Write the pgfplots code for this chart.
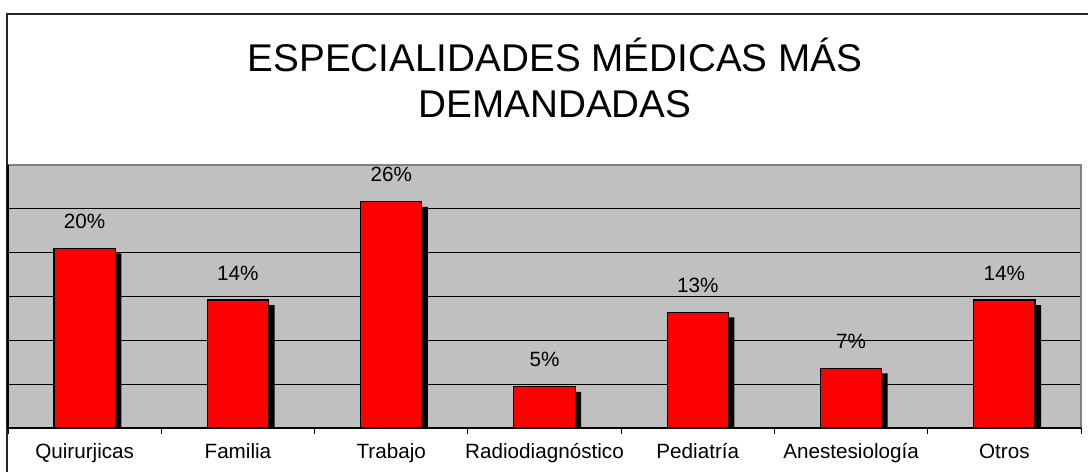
\documentclass[border=0pt]{standalone}
\usepackage{fontspec}
\setmainfont{Liberation Sans}
\usepackage{pgfplots}
\pgfplotsset{compat=1.18}
\usepackage{pgfplotstable}
\definecolor{plotgray}{RGB}{192,192,192}
\definecolor{barred}{RGB}{255,0,0}
\pgfplotstableread{
x val lab
0 20.5 20
1 14.6 14
2 25.8 26
3 4.7 5
4 13.2 13
5 6.8 7
6 14.6 14
}\datatable
\begin{document}
\begin{tikzpicture}
\useasboundingbox (0,0) rectangle (816pt,354pt);
% outer chart border
\draw[line width=1.2pt, black!85] (5.25pt,0pt) -- (5.25pt,343.5pt) -- (816pt,343.5pt);
% title
\node[anchor=base, font=\fontsize{29}{34}\selectfont] at (416.25pt,300pt) {ESPECIALIDADES MÉDICAS MÁS};
\node[anchor=base, font=\fontsize{29}{34}\selectfont] at (416.25pt,265.5pt) {DEMANDADAS};
\begin{axis}[
  name=ax,
  at={(6pt,33pt)}, anchor=south west,
  width=804.75pt, height=197.25pt, scale only axis,
  xmin=-0.5, xmax=6.5, ymin=0, ymax=30,
  axis background/.style={fill=plotgray},
  axis line style={draw=none},
  ytick={5,10,15,20,25}, yticklabels={}, ytick style={draw=none},
  ymajorgrids, grid style={black, line width=0.6pt},
  xtick={-0.5,0.5,1.5,2.5,3.5,4.5,5.5,6.5}, xticklabels={},
  xtick pos=bottom,
  xtick style={black, line width=0.6pt},
  tick align=outside, major tick length=4.5pt,
  extra x ticks={0,1,2,3,4,5,6},
  extra x tick labels={Quirurjicas,Familia,Trabajo,Radiodiagnóstico,Pediatría,Anestesiología,Otros},
  extra x tick style={major tick length=0pt, xticklabel style={anchor=base, yshift=-23pt, font=\fontsize{15.5}{18}\selectfont}},
  bar width=0.4,
]
\addplot[ybar, bar shift=4.5pt, fill=black, draw=none, yshift=-3.75pt] table[x=x,y=val] {\datatable};
\addplot[ybar, bar shift=0pt, fill=barred, draw=black, line width=0.8pt,
  point meta=explicit symbolic,
  nodes near coords={\pgfplotspointmeta\%},
  every node near coord/.append style={anchor=base, inner sep=0pt, yshift=15pt, font=\fontsize{15.5}{18}\selectfont, black}
] table[x=x,y=val,meta=lab] {\datatable};
\end{axis}
\draw[gray, line width=0.8pt] (ax.north west) -- (ax.north east) -- (ax.south east);
\draw[black, line width=0.9pt] (ax.north west) -- (ax.south west) -- (ax.south east);
\end{tikzpicture}
\end{document}
